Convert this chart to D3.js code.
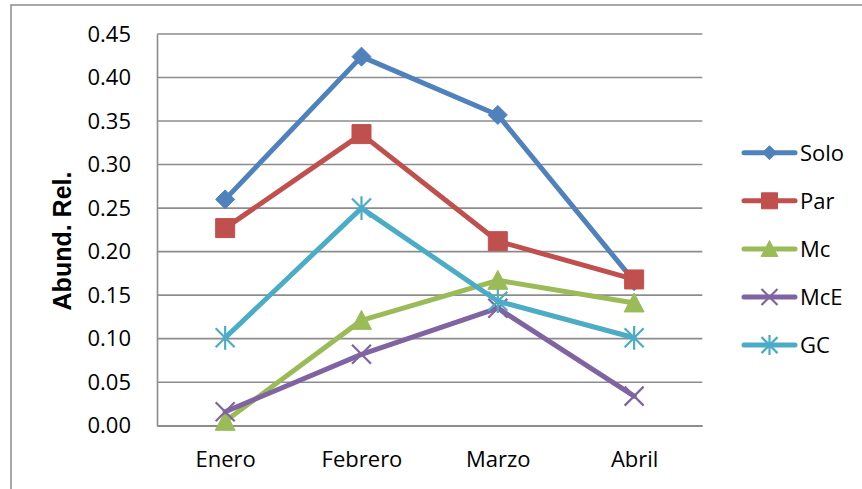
<!DOCTYPE html>
<html>
<head>
<meta charset="utf-8">
<script src="https://cdn.jsdelivr.net/npm/d3@7"></script>
<style>
  html, body { margin: 0; padding: 0; background: #fff; }
  svg { display: block; }
</style>
</head>
<body>
<svg id="chart" width="862" height="489"></svg>
<script>
// Relative abundance per month for each group type
const months = ["Enero", "Febrero", "Marzo", "Abril"];
const seriesNames = ["Solo", "Par", "Mc", "McE", "GC"];
const solo = [0.26, 0.424, 0.357, 0.166];
const par  = [0.227, 0.335, 0.212, 0.168];
const mc   = [0.005, 0.121, 0.167, 0.141];
const mce  = [0.016, 0.082, 0.135, 0.034];
const gc   = [0.101, 0.250, 0.143, 0.101];
const yTicks = [0, 0.05, 0.10, 0.15, 0.20, 0.25, 0.30, 0.35, 0.40, 0.45];
const colors = ["#4F81BD", "#C0504D", "#9BBB59", "#8064A2", "#4BACC6"];
const markers = ["diamond", "square", "triangle", "x", "star"];

const series = seriesNames.map((name, i) => ({
  name,
  values: [solo, par, mc, mce, gc][i],
  color: colors[i],
  marker: markers[i]
}));

const svg = d3.select("#chart");
const plot = { left: 157, right: 702.3, top: 34, bottom: 425.7 };

// Outer chart frame
svg.append("rect")
  .attr("x", 11).attr("y", 5)
  .attr("width", 1000).attr("height", 1000)
  .attr("fill", "none").attr("stroke", "#8a8a8a").attr("stroke-width", 1.5);

const x = d3.scalePoint().domain(months).range([plot.left, plot.right]).padding(0.5);
const y = d3.scaleLinear().domain([0, 0.45]).range([plot.bottom, plot.top]);

// Horizontal gridlines
svg.append("g").selectAll("line").data(yTicks).join("line")
  .attr("x1", plot.left).attr("x2", plot.right)
  .attr("y1", d => y(d)).attr("y2", d => y(d))
  .attr("stroke", "#8c8c8c").attr("stroke-width", 1.6);

// Y axis
const yAxis = svg.append("g")
  .attr("transform", `translate(${plot.left},0)`)
  .call(d3.axisLeft(y).tickValues(yTicks).tickFormat(d3.format(".2f")).tickSize(0).tickPadding(26));
yAxis.select(".domain").attr("stroke", "#8c8c8c").attr("stroke-width", 1.6);
yAxis.selectAll("text")
  .attr("font-family", "'Open Sans', sans-serif")
  .attr("font-size", 22)
  .attr("fill", "#000");

// X axis
const xAxis = svg.append("g")
  .attr("transform", `translate(0,${plot.bottom})`)
  .call(d3.axisBottom(x).tickSize(0).tickPadding(26));
xAxis.select(".domain").attr("stroke", "#8c8c8c").attr("stroke-width", 1.6);
xAxis.selectAll("text")
  .attr("font-family", "'Open Sans', sans-serif")
  .attr("font-size", 22)
  .attr("fill", "#000");

// Y axis title
svg.append("text")
  .attr("transform", "translate(71,241) rotate(-90)")
  .attr("text-anchor", "middle")
  .attr("font-family", "'Liberation Sans', Arial, sans-serif")
  .attr("font-weight", "bold")
  .attr("font-size", 25)
  .attr("fill", "#000")
  .text("Abund. Rel.");

// Marker path generator, s = nominal marker size in px
function markerPath(type, s) {
  const h = s / 2;
  switch (type) {
    case "diamond":
      return `M0,${-h}L${h},0L0,${h}L${-h},0Z`;
    case "square":
      return `M${-h},${-h}H${h}V${h}H${-h}Z`;
    case "triangle": {
      const t = h * 1.05;
      return `M0,${-t}L${t},${t * 0.9}L${-t},${t * 0.9}Z`;
    }
    case "x":
      return `M${-h},${-h}L${h},${h}M${-h},${h}L${h},${-h}`;
    case "star":
      return `M${-h},${-h}L${h},${h}M${-h},${h}L${h},${-h}M0,${-h * 1.25}V${h * 1.25}`;
  }
}
const isStroke = t => t === "x" || t === "star";

function drawMarker(g, type, color, size) {
  const p = g.append("path").attr("d", markerPath(type, size));
  if (isStroke(type)) {
    p.attr("fill", "none").attr("stroke", color).attr("stroke-width", 2.2);
  } else {
    p.attr("fill", color).attr("stroke", color).attr("stroke-width", 1);
  }
}

const line = d3.line().x((d, i) => x(months[i])).y(d => y(d));

// Series lines and markers
series.forEach(s => {
  const g = svg.append("g");
  g.append("path")
    .attr("d", line(s.values))
    .attr("fill", "none")
    .attr("stroke", s.color)
    .attr("stroke-width", 5)
    .attr("stroke-linejoin", "round")
    .attr("stroke-linecap", "round");
  s.values.forEach((v, i) => {
    const mg = g.append("g").attr("transform", `translate(${x(months[i])},${y(v)})`);
    drawMarker(mg, s.marker, s.color, 19);
  });
});

// Legend
const legend = svg.append("g");
series.forEach((s, i) => {
  const ly = 152.7 + i * 48.1;
  const g = legend.append("g").attr("transform", `translate(0,${ly})`);
  g.append("line")
    .attr("x1", 744).attr("x2", 795)
    .attr("stroke", s.color).attr("stroke-width", 5)
    .attr("stroke-linecap", "round");
  const mg = g.append("g").attr("transform", "translate(769.5,0)");
  drawMarker(mg, s.marker, s.color, s.marker === "diamond" ? 14 : 16);
  g.append("text")
    .attr("x", 800).attr("y", 0)
    .attr("dy", "0.36em")
    .attr("font-family", "'Open Sans', sans-serif")
    .attr("font-size", 22)
    .attr("fill", "#000")
    .text(s.name);
});
</script>
</body>
</html>
